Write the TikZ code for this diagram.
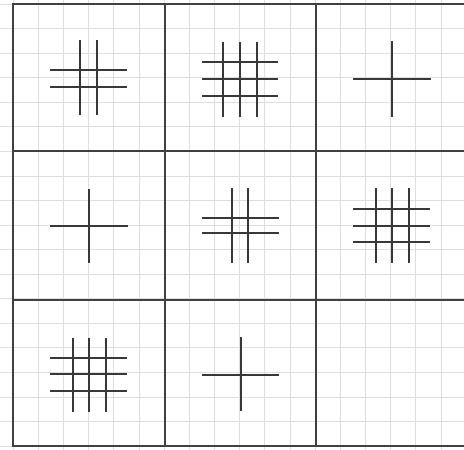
\documentclass[tikz,border=0pt]{standalone}
\begin{document}
\begin{tikzpicture}[x=1pt,y=-1pt,
  finegrid/.style={draw=black!13, line width=0.7pt},
  frame/.style={draw=black!75, line width=1.8pt},
  stroke/.style={draw=black!78, line width=2.4pt}]
\useasboundingbox (0,0) rectangle (464,450);
\fill[white] (0,0) rectangle (464,450);
% fine grid
\foreach \i in {0,...,18} {
  \draw[finegrid] ({13+25.17*\i},0) -- ({13+25.17*\i},450);
}
\foreach \j in {0,...,18} {
  \draw[finegrid] (0,{4+24.56*\j}) -- (464,{4+24.56*\j});
}
% big frame
\foreach \x in {13,165,316} { \draw[frame] (\x,4) -- (\x,447); }
\foreach \y in {4,151,300,446} { \draw[frame] (12,\y) -- (464,\y); }
% cell (1,1): 2x2
\foreach \x in {80,97} { \draw[stroke] (\x,40) -- (\x,115); }
\foreach \y in {70,87} { \draw[stroke] (50,\y) -- (127,\y); }
% cell (1,2): 3x3
\foreach \x in {223,240,257} { \draw[stroke] (\x,42) -- (\x,117); }
\foreach \y in {62,79,96} { \draw[stroke] (202,\y) -- (278,\y); }
% cell (1,3): 1x1
\draw[stroke] (392,41) -- (392,117);
\draw[stroke] (353,79) -- (431,79);
% cell (2,1): 1x1
\draw[stroke] (89,189) -- (89,263);
\draw[stroke] (50,226) -- (128,226);
% cell (2,2): 2x2
\foreach \x in {232,248} { \draw[stroke] (\x,188) -- (\x,263); }
\foreach \y in {218,233} { \draw[stroke] (202,\y) -- (279,\y); }
% cell (2,3): 3x3
\foreach \x in {376,392,409} { \draw[stroke] (\x,188) -- (\x,263); }
\foreach \y in {209,226,242} { \draw[stroke] (353,\y) -- (430,\y); }
% cell (3,1): 3x3
\foreach \x in {73,89,106} { \draw[stroke] (\x,338) -- (\x,412); }
\foreach \y in {358,374,391} { \draw[stroke] (50,\y) -- (127,\y); }
% cell (3,2): 1x1
\draw[stroke] (241,337) -- (241,411);
\draw[stroke] (202,375) -- (279,375);
\end{tikzpicture}
\end{document}
